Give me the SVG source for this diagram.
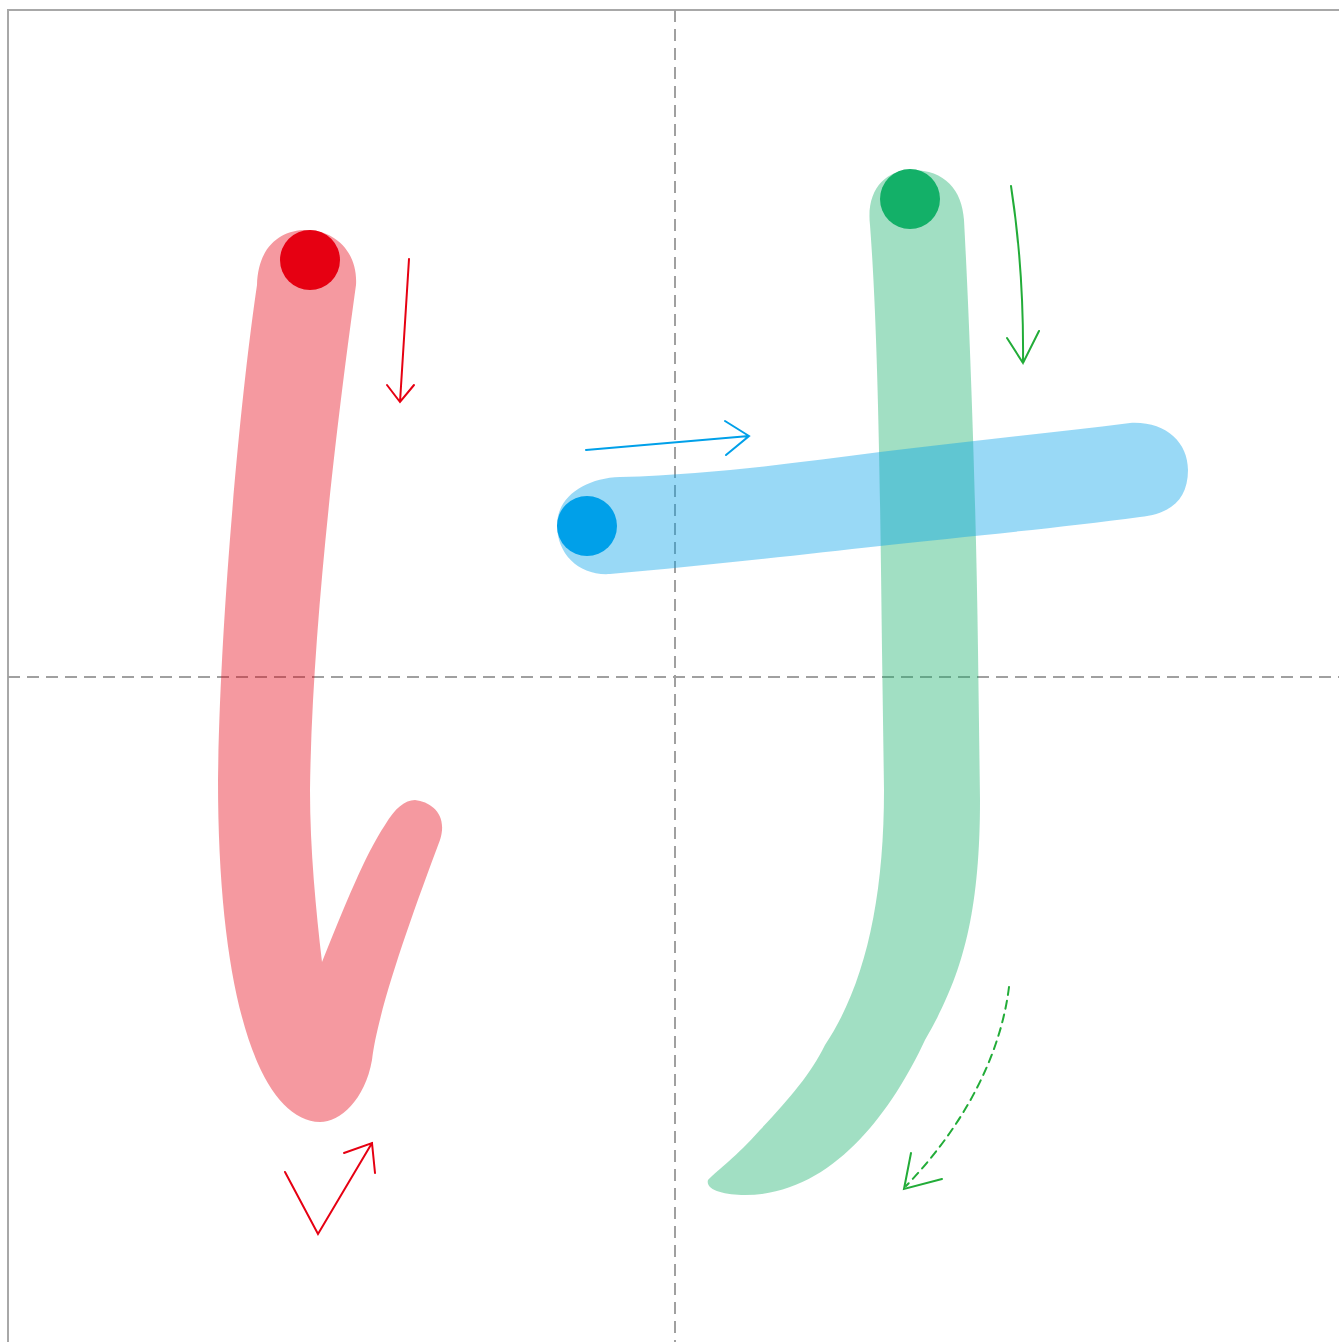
<svg xmlns="http://www.w3.org/2000/svg" width="1339" height="1342" viewBox="0 0 1339 1342">
<style>
.grid{stroke:#a0a0a0;stroke-width:2;fill:none;stroke-dasharray:12 7}
.border{stroke:#a8a8a8;stroke-width:2;fill:none}
.arr{fill:none;stroke-width:2;stroke-linecap:round;stroke-linejoin:miter}
.red{stroke:#e60012}.blue{stroke:#00a0e9}.green{stroke:#22ac38}
</style>
<rect width="1339" height="1342" fill="#fff"/>
<g id="grid">
<rect class="border" x="8" y="10" width="1340" height="1340"/>
<line class="grid" x1="675" y1="10" x2="675" y2="1342"/>
<line class="grid" x1="8" y1="677" x2="1339" y2="677"/>
</g>
<g id="stroke1">
<path fill="#e60012" fill-opacity="0.4" d="M257,285 C258,245 282,230 306,230 C335,230 358,252 356,285 C340,400 312,620 310,790 C310,850 316,910 322,962 C345,905 365,855 385,825 C395,808 405,800 415,800 C432,802 448,815 440,840 C410,920 378,1010 372,1060 C365,1100 340,1122 320,1122 C260,1120 218,1000 218,780 C220,620 240,400 257,285 Z"/>
<circle cx="310" cy="260" r="30" fill="#e60012"/>
</g>
<g id="stroke3">
<path fill="#13b068" fill-opacity="0.4" d="M870,225 C866,190 885,170 912,170 C945,170 962,190 964,220 C970,330 976,500 978,650 L980,800 C980,920 960,980 925,1040 C890,1115 830,1195 745,1195 C725,1195 705,1190 708,1180 C720,1168 735,1158 760,1130 C790,1098 810,1075 825,1045 C865,985 884,900 884,790 L882,650 C880,480 878,330 870,225 Z"/>
<circle cx="910" cy="199" r="30" fill="#13b068"/>
</g>
<g id="stroke2">
<path fill="#00a0e9" fill-opacity="0.4" d="M620,477 C720,474 800,462 880,452 C960,442 1050,433 1130,423 C1165,421 1188,442 1188,470 C1188,500 1170,514 1140,517 C1060,528 960,537 880,546 C800,555 700,566 610,574 C580,576 557,555 557,525 C557,497 585,478 620,477 Z"/>
<circle cx="587" cy="526" r="30" fill="#00a0e9"/>
</g>
<g id="arrows">
<path class="arr red" d="M409,259 L400,402 M387,385 L400,402 L414,385"/>
<path class="arr red" d="M285,1172 L318,1234 L372,1143 M344,1153 L372,1143 L375,1173"/>
<path class="arr blue" d="M586,450 L749,436 M725,421 L749,436 L726,455"/>
<path class="arr green" d="M1011,186 Q1024,270 1023,363 M1007,338 L1023,363 L1039,331"/>
<path class="arr green" stroke-dasharray="8 6" d="M1009,987 C1000,1060 960,1130 906,1186"/>
<path class="arr green" d="M911,1153 L904,1189 L942,1179"/>
</g>
</svg>
